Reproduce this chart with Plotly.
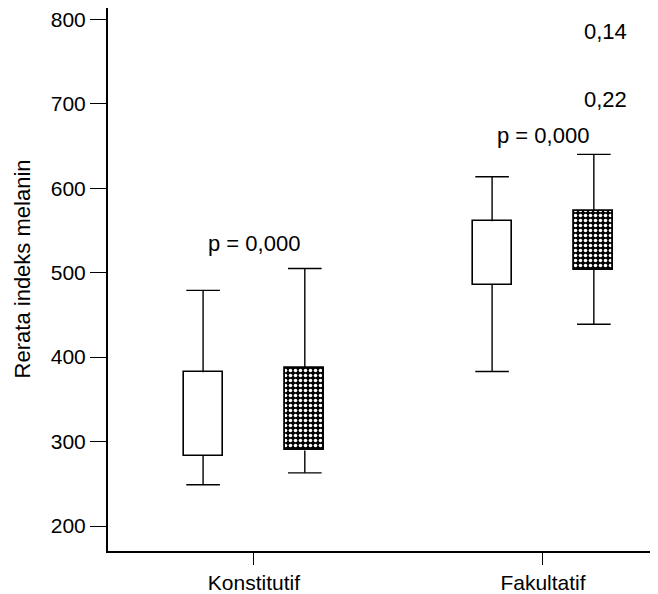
import numpy as np
import plotly.graph_objects as go

# ---- data ----
categories = ["Konstitutif", "Fakultatif"]
y_ticks = [200, 300, 400, 500, 600, 700, 800]

# open (white) boxes
white_low = [249, 383]
white_q1 = [283, 485.5]
white_q3 = [382, 561]
white_high = [479, 613.5]

# hatched boxes
hatch_low = [263, 439]
hatch_q1 = [289.5, 503]
hatch_q3 = [387, 573]
hatch_high = [505, 640]

p_labels = ["p = 0,000", "p = 0,000"]
p_label_y = [535, 662]
extra_labels = ["0,14", "0,22"]
extra_label_y = [786, 705]

# ---- layout helpers ----
FONT = "Liberation Sans, Arial, sans-serif"
cat_idx = np.arange(len(categories), dtype=float)
offset = 0.176
box_w = 0.135
cap_px = 24

fig = go.Figure()


def add_group(pos, low, q1, q3, high, hatched):
    q1 = np.array(q1, float)
    q3 = np.array(q3, float)
    marker = dict(color="white", line=dict(color="black", width=1.6))
    if hatched:
        marker = dict(
            color="black",
            line=dict(color="black", width=1.8),
            pattern=dict(shape=".", fillmode="replace", bgcolor="black",
                         fgcolor="white", size=5, solidity=0.4),
        )
    # whiskers
    wx, wy = [], []
    for p, lo, a, b, hi in zip(pos, low, q1, q3, high):
        wx += [p, p, None, p, p, None]
        wy += [b, hi, None, a, lo, None]
    fig.add_trace(go.Scatter(x=wx, y=wy, mode="lines",
                             line=dict(color="black", width=1.4),
                             hoverinfo="skip", showlegend=False))
    # caps
    fig.add_trace(go.Scatter(x=list(pos) + list(pos), y=list(high) + list(low),
                             mode="markers",
                             marker=dict(symbol="line-ew", size=cap_px,
                                         line=dict(color="black", width=1.4)),
                             hoverinfo="skip", showlegend=False))
    # boxes
    fig.add_trace(go.Bar(x=pos, y=q3 - q1, base=q1, width=box_w,
                         marker=marker, showlegend=False))


add_group(cat_idx - offset, white_low, white_q1, white_q3, white_high, False)
add_group(cat_idx + offset, hatch_low, hatch_q1, hatch_q3, hatch_high, True)

annotations = []
for i, (t, y) in enumerate(zip(p_labels, p_label_y)):
    annotations.append(dict(x=cat_idx[i], y=y, xref="x", yref="y", text=t,
                            xanchor="center", yanchor="middle",
                            showarrow=False, font=dict(size=22, color="black", family=FONT)))
for t, y in zip(extra_labels, extra_label_y):
    annotations.append(dict(x=cat_idx[1] + 0.215, y=y, xref="x", yref="y", text=t,
                            xanchor="center", yanchor="middle",
                            showarrow=False, font=dict(size=22, color="black", family=FONT)))
annotations.append(dict(x=-0.156, y=0.519, xref="paper", yref="paper",
                        xanchor="center", yanchor="middle",
                        text="Rerata indeks melanin", textangle=-90, showarrow=False,
                        font=dict(size=22, color="black", family=FONT)))

fig.update_layout(
    width=650, height=586,
    margin=dict(l=100, r=0, t=0, b=41),
    paper_bgcolor="white", plot_bgcolor="white",
    font=dict(family=FONT, size=21, color="black"),
    annotations=annotations,
    bargap=0,
    xaxis=dict(range=[-0.505, 1.398], tickmode="array", tickvals=cat_idx,
               ticktext=categories, showgrid=False, zeroline=False,
               showline=True, linecolor="black", linewidth=2,
               ticks="outside", ticklen=12, tickwidth=1.4, tickcolor="black",
               tickfont=dict(size=21)),
    yaxis=dict(range=[170.5, 813.3], tickmode="array", tickvals=y_ticks,
               showgrid=False, zeroline=False, ticklabeloverflow="allow",
               showline=True, linecolor="black", linewidth=2,
               ticks="outside", ticklen=16, tickwidth=1.4, tickcolor="black",
               tickfont=dict(size=21)),
)

fig.write_html("out.html")
